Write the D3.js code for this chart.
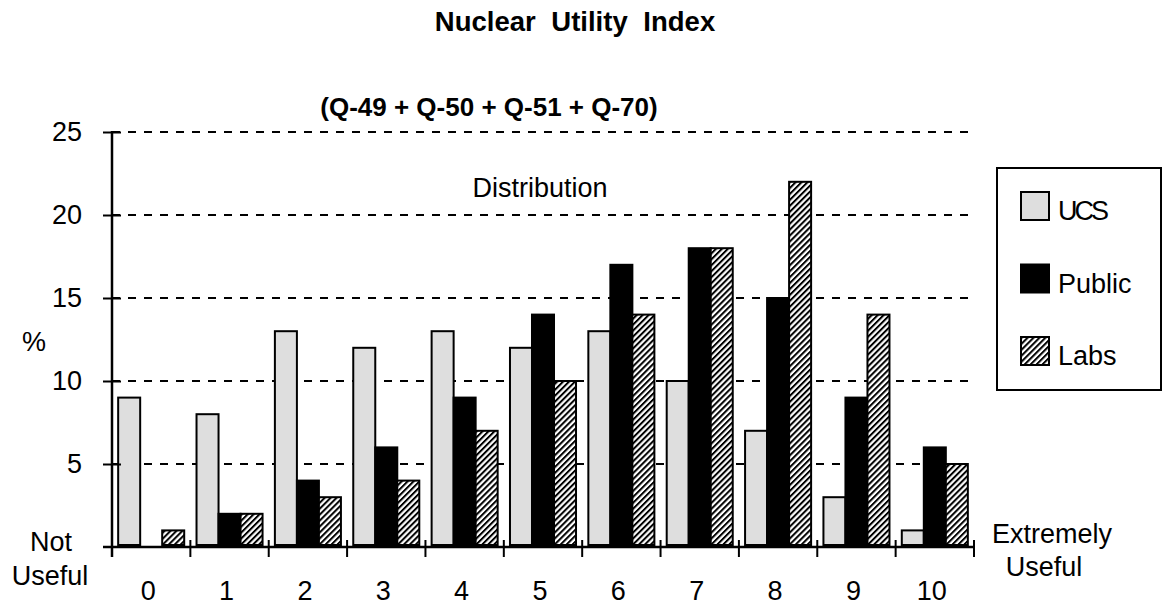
<!DOCTYPE html>
<html>
<head>
<meta charset="utf-8">
<script src="https://cdn.jsdelivr.net/npm/d3@7"></script>
<style>
  html, body { margin: 0; padding: 0; background: #fff; }
  svg text { font-family: "Liberation Sans", Arial, sans-serif; fill: #000; }
</style>
</head>
<body>
<svg id="chart" width="1165" height="605"></svg>
<script>
// Usefulness rating 0..10 and share of respondents (%) per group
const categories = ["0", "1", "2", "3", "4", "5", "6", "7", "8", "9", "10"];
const seriesNames = ["UCS", "Public", "Labs"];
const ucsValues    = [9, 8, 13, 12, 13, 12, 13, 10, 7, 3, 1];
const publicValues = [0, 2, 4, 6, 9, 14, 17, 18, 15, 9, 6];
const labsValues   = [1, 2, 3, 4, 7, 10, 14, 18, 22, 14, 5];
const yTicks = [5, 10, 15, 20, 25];

const valuesBySeries = { UCS: ucsValues, Public: publicValues, Labs: labsValues };

const svg = d3.select("#chart");
const FS = 27;

// hatched fill for the Labs series
const defs = svg.append("defs");
const pat = defs.append("pattern")
  .attr("id", "hatch")
  .attr("patternUnits", "userSpaceOnUse")
  .attr("width", 4.2).attr("height", 4.2)
  .attr("patternTransform", "rotate(45)");
pat.append("rect").attr("width", 4.2).attr("height", 4.2).attr("fill", "#fff");
pat.append("rect").attr("x", 0).attr("y", 0).attr("width", 2).attr("height", 4.2).attr("fill", "#000");

const fills = { UCS: "#dedede", Public: "#000", Labs: "url(#hatch)" };

const plot = { left: 112, right: 974, top: 132, bottom: 547 };

const x = d3.scaleBand().domain(categories).range([plot.left, plot.right]).padding(0);
const xSub = d3.scaleBand().domain(seriesNames).range([0, x.bandwidth()])
  .paddingInner(0).paddingOuter(0.28);
const y = d3.scaleLinear().domain([0, 25]).range([plot.bottom, plot.top]);

// dashed horizontal gridlines
svg.append("g").selectAll("line").data(yTicks).join("line")
  .attr("x1", plot.left).attr("x2", plot.right - 4)
  .attr("y1", d => y(d)).attr("y2", d => y(d))
  .attr("stroke", "#000").attr("stroke-width", 2)
  .attr("stroke-dasharray", "8,8");

// bars
const groups = svg.append("g").selectAll("g").data(categories).join("g")
  .attr("transform", d => `translate(${x(d)},0)`);
groups.selectAll("rect")
  .data((c, i) => seriesNames.map(s => ({ s, v: valuesBySeries[s][i] })).filter(d => d.v > 0))
  .join("rect")
  .attr("x", d => xSub(d.s))
  .attr("width", xSub.bandwidth())
  .attr("y", d => y(d.v))
  .attr("height", d => y(0) - y(d.v) - 2)
  .attr("fill", d => fills[d.s])
  .attr("stroke", "#000").attr("stroke-width", 2);

// y axis
const yAxis = svg.append("g").attr("transform", `translate(${plot.left},0)`)
  .call(d3.axisLeft(y).tickValues(yTicks).tickSize(9).tickPadding(21).tickFormat(d3.format("d")));
yAxis.select(".domain").remove();
yAxis.append("line").attr("x1", 0).attr("x2", 0)
  .attr("y1", plot.top - 1).attr("y2", plot.bottom + 10)
  .attr("stroke", "#000").attr("stroke-width", 2.5);
yAxis.selectAll(".tick line").attr("x1", 9).attr("stroke-width", 2);
yAxis.selectAll(".tick text").attr("font-size", FS).style("font-family", "'Liberation Sans', Arial, sans-serif");

// x axis with ticks between categories
const xAxisG = svg.append("g");
xAxisG.append("line")
  .attr("x1", plot.left - 9).attr("x2", plot.right)
  .attr("y1", plot.bottom).attr("y2", plot.bottom)
  .attr("stroke", "#000").attr("stroke-width", 2.5);
const boundaries = categories.map(c => x(c)).concat([x(categories[categories.length - 1]) + x.bandwidth()]);
xAxisG.selectAll("line.tick").data(boundaries.slice(1)).join("line")
  .attr("class", "tick")
  .attr("x1", d => d).attr("x2", d => d)
  .attr("y1", plot.bottom - 7).attr("y2", plot.bottom + 10)
  .attr("stroke", "#000").attr("stroke-width", 2);
xAxisG.selectAll("text").data(categories).join("text")
  .attr("x", d => x(d) + x.bandwidth() / 2 - 3)
  .attr("y", 600)
  .attr("text-anchor", "middle")
  .attr("font-size", FS)
  .text(d => d);

// titles and annotations
svg.append("text").attr("x", 575).attr("y", 31).attr("text-anchor", "middle")
  .attr("font-size", 27.5).attr("font-weight", "bold").attr("word-spacing", 8)
  .text("Nuclear Utility Index");
svg.append("text").attr("x", 489).attr("y", 116).attr("text-anchor", "middle")
  .attr("font-size", 26).attr("font-weight", "bold")
  .text("(Q-49 + Q-50 + Q-51 + Q-70)");
svg.append("text").attr("x", 540).attr("y", 197).attr("text-anchor", "middle")
  .attr("font-size", FS).text("Distribution");
svg.append("text").attr("x", 34).attr("y", 351).attr("text-anchor", "middle")
  .attr("font-size", FS).text("%");
svg.append("text").attr("x", 51).attr("y", 551).attr("text-anchor", "middle")
  .attr("font-size", FS).text("Not");
svg.append("text").attr("x", 50).attr("y", 585).attr("text-anchor", "middle")
  .attr("font-size", FS).text("Useful");
svg.append("text").attr("x", 1052).attr("y", 543).attr("text-anchor", "middle")
  .attr("font-size", FS).text("Extremely");
svg.append("text").attr("x", 1044).attr("y", 576).attr("text-anchor", "middle")
  .attr("font-size", FS).text("Useful");

// legend
const legend = svg.append("g");
legend.append("rect").attr("x", 997).attr("y", 168).attr("width", 164).attr("height", 222)
  .attr("fill", "#fff").attr("stroke", "#000").attr("stroke-width", 2);
const legendY = d3.scalePoint().domain(seriesNames).range([192, 337]);
const items = legend.selectAll("g.item").data(seriesNames).join("g").attr("class", "item")
  .attr("transform", d => `translate(1021,${legendY(d)})`);
items.append("rect").attr("width", 28).attr("height", 28)
  .attr("fill", d => fills[d]).attr("stroke", "#000").attr("stroke-width", 2);
items.append("text").attr("x", 37).attr("y", 28)
  .attr("font-size", FS)
  .attr("letter-spacing", d => d === "UCS" ? -3 : 0)
  .text(d => d);
</script>
</body>
</html>
